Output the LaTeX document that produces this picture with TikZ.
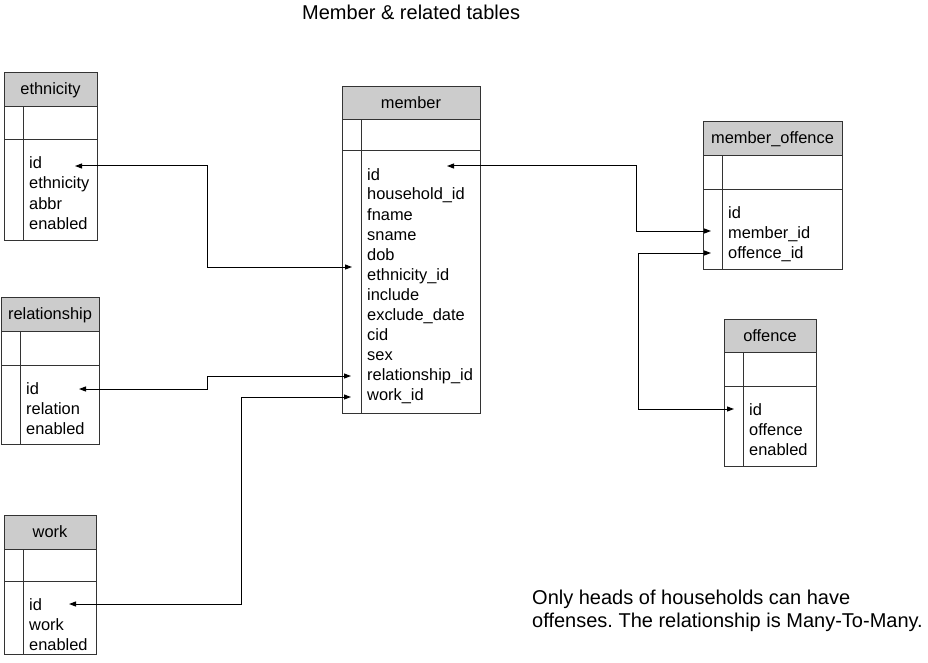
\documentclass[tikz,border=0pt]{standalone}
\usepackage{fontspec}
\setmainfont{Liberation Sans}
\usetikzlibrary{arrows.meta}
\frenchspacing

% #1 name, #2 left, #3 top, #4 right, #5 bottom, #6 header bottom, #7 key row bottom, #8 title, #9 fields
\newcommand{\dbtable}[9]{%
  \fill[gray!40] (#2,#3) rectangle (#4,#6);
  \draw[tableline] (#2,#3) rectangle (#4,#5);
  \draw[tableline] (#2,#6) -- (#4,#6);
  \draw[tableline] (#2,#7) -- (#4,#7);
  \draw[tableline] (#2+19,#6) -- (#2+19,#5);
  \node[headtext] (#1) at ({(#2+#4)/2},#3+22) {#8};
  \foreach \f [count=\k] in {#9}
    \node[fieldtext] (#1-\k) at (#2+25,#7+9+20*\k) {\f};
}

\begin{document}
\begin{tikzpicture}[x=1pt, y=-1pt,
    tableline/.style={draw=black!80, line width=1pt},
    headtext/.style={anchor=base, inner sep=0pt, font=\fontsize{16.4}{20}\selectfont},
    fieldtext/.style={anchor=base west, inner sep=0pt, font=\fontsize{16.4}{20}\selectfont},
    plaintext/.style={inner sep=0pt, font=\fontsize{20}{23}\selectfont},
    link/.style={{Triangle[length=7pt,width=5pt]}-{Triangle[length=7pt,width=5pt]}, line width=1pt}]

        \useasboundingbox (0,0) rectangle (928,663);

        \node[plaintext, anchor=base west] (title) at (302,20) {Member \& related tables};

        \dbtable{ethnicity}{4}{73}{97}{240}{107}{140}{ethnicity}{id,ethnicity,abbr,enabled}
        \dbtable{member}{342}{87}{480}{413}{120}{151}{member}{id,household\_id,fname,sname,dob,ethnicity\_id,include,exclude\_date,cid,sex,relationship\_id,work\_id}
        \dbtable{memberoffence}{703}{122}{842}{269}{156}{189}{member\_offence}{id,member\_id,offence\_id}
        \dbtable{offence}{724}{319}{816}{466}{352}{386}{offence}{id,offence,enabled}
        \dbtable{relationship}{1}{297}{99}{444}{331}{365}{relationship}{id,relation,enabled}
        \dbtable{work}{4}{515}{96}{654}{549}{581}{work}{id,work,enabled}

        \node[plaintext, anchor=north west, align=left] (note) at (532,590)
            {Only heads of households can have\\offenses. The relationship is Many-To-Many.};

        \coordinate (eth-id) at (75,166);
        \coordinate (mem-eth) at (352,267);
        \coordinate (mem-id) at (447,166);
        \coordinate (mo-mem) at (711,231);
        \coordinate (mo-off) at (711,253);
        \coordinate (off-id) at (734,409);
        \coordinate (rel-id) at (79,389);
        \coordinate (mem-rel) at (351,376);
        \coordinate (mem-work) at (351,397);
        \coordinate (work-id) at (69,604);

        \draw[link] (eth-id) -- ++(132,0) |- (mem-eth);
        \draw[link] (mem-id) -- ++(189,0) |- (mo-mem);
        \draw[link] (mo-off) -- ++(-73,0) |- (off-id);
        \draw[link] (rel-id) -- ++(128,0) |- (mem-rel);
        \draw[link] (mem-work) -- ++(-110,0) |- (work-id);
    \end{tikzpicture}
\end{document}
